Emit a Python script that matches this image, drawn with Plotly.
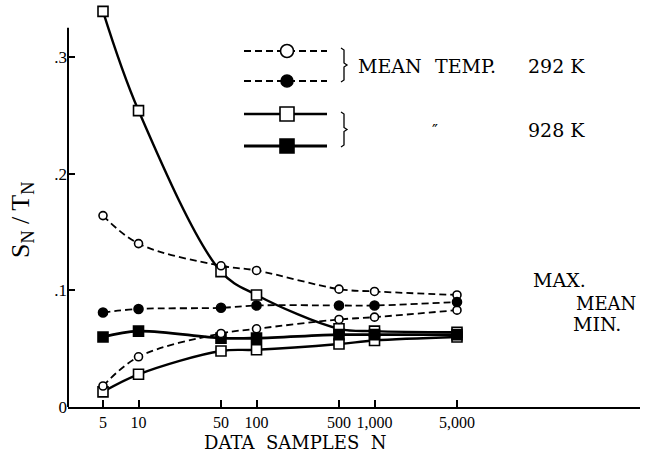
import plotly.graph_objects as go
import numpy as np

# Number of data samples N
samples = [5, 10, 50, 100, 500, 1000, 5000]
tick_text = ["5", "10", "50", "100", "500", "1,000", "5,000"]

# S_N / T_N at mean temperature 292 K
k292_max = [0.164, 0.140, 0.121, 0.117, 0.101, 0.099, 0.096]
k292_mean = [0.081, 0.084, 0.085, 0.087, 0.087, 0.087, 0.090]
k292_min = [0.018, 0.043, 0.063, 0.067, 0.075, 0.077, 0.083]

# S_N / T_N at mean temperature 928 K
k928_max = [0.339, 0.254, 0.116, 0.096, 0.067, 0.065, 0.064]
k928_mean = [0.060, 0.065, 0.059, 0.059, 0.062, 0.062, 0.062]
k928_min = [0.013, 0.028, 0.048, 0.049, 0.054, 0.057, 0.060]

TICK_FONT = "Liberation Serif, Times New Roman, serif"
LABEL_FONT = "DejaVu Serif, Liberation Serif, serif"
W, H = 645, 466
ML, MR, MT, MB = 68, 5, 4, 59
PW, PH = W - ML - MR, H - MT - MB
PX_PER_DECADE = 118.0
PX_PER_UNIT = 1167.0

x0 = np.log10(5) - (103 - ML) / PX_PER_DECADE
x1 = x0 + PW / PX_PER_DECADE
y1 = PH / PX_PER_UNIT


def px(x):
    """page x pixel -> paper coordinate"""
    return (x - ML) / PW


def py(y):
    """page y pixel (from top) -> paper coordinate"""
    return (H - MB - y) / PH


fig = go.Figure()


def add_series(y, dash, width, symbol, size, fill):
    fig.add_trace(go.Scatter(
        x=samples, y=y, mode="lines+markers",
        line=dict(color="black", width=width, dash=dash, shape="spline", smoothing=1.0),
        marker=dict(symbol=symbol, size=size, color=fill,
                    line=dict(color="black", width=1.6)),
        cliponaxis=False, showlegend=False,
    ))


DASH = "7px,4px"
add_series(k928_max, "solid", 2.4, "square", 10, "white")
add_series(k928_min, "solid", 2.4, "square", 10, "white")
add_series(k928_mean, "solid", 2.8, "square", 10, "black")
add_series(k292_max, DASH, 1.8, "circle", 8, "white")
add_series(k292_min, DASH, 1.8, "circle", 8, "white")
add_series(k292_mean, DASH, 1.8, "circle", 9, "black")

# Key samples on an overlay axis measured in page pixels
key_y = [51, 81, 114, 146]
key_styles = [
    (DASH, 2.0, "circle", 13, "white"),
    (DASH, 2.0, "circle", 12, "black"),
    ("solid", 2.4, "square", 14, "white"),
    ("solid", 2.8, "square", 14, "black"),
]
for yy, (dash, width, sym, size, fill) in zip(key_y, key_styles):
    fig.add_trace(go.Scatter(
        x=[244, 327], y=[H - yy, H - yy], mode="lines",
        line=dict(color="black", width=width, dash=dash),
        xaxis="x2", yaxis="y2", showlegend=False,
    ))
    fig.add_trace(go.Scatter(
        x=[287], y=[H - yy], mode="markers",
        marker=dict(symbol=sym, size=size, color=fill, line=dict(color="black", width=1.6)),
        xaxis="x2", yaxis="y2", showlegend=False, cliponaxis=False,
    ))

fig.update_layout(
    width=W, height=H,
    margin=dict(l=ML, r=MR, t=MT, b=MB),
    paper_bgcolor="white", plot_bgcolor="white",
    font=dict(family=TICK_FONT, color="black", size=15),
    xaxis=dict(
        type="log", range=[x0, x1],
        tickvals=samples, ticktext=tick_text,
        ticks="inside", ticklen=7, tickwidth=1.5, tickcolor="black",
        showline=True, linecolor="black", linewidth=2,
        showgrid=False, zeroline=False,
        tickfont=dict(family=TICK_FONT, size=16),
    ),
    yaxis=dict(
        range=[0, y1],
        tickvals=[0, 0.1, 0.2, 0.3], ticktext=["0", ".1", ".2", ".3"],
        ticks="inside", ticklen=7, tickwidth=1.5, tickcolor="black",
        showline=False, showgrid=False, zeroline=False,
        tickfont=dict(family=TICK_FONT, size=17),
    ),
    xaxis2=dict(range=[ML, W - MR], anchor="y2", overlaying="x",
                visible=False, fixedrange=True),
    yaxis2=dict(range=[MB, H - MT], anchor="x2", overlaying="y",
                visible=False, fixedrange=True),
)

# vertical axis line, ending a little above .3
fig.add_shape(type="line", xref="paper", yref="y", x0=0, x1=0, y0=0, y1=0.325,
              line=dict(color="black", width=2))

# braces next to the key
for top, bot in [(48, 82), (112, 147)]:
    mid = (top + bot) / 2
    pts = [(341, top), (344, top + 2), (344, mid - 2), (347, mid),
           (344, mid + 2), (344, bot - 2), (341, bot)]
    path = "M " + " L ".join(f"{px(a):.5f} {py(b):.5f}" for a, b in pts)
    fig.add_shape(type="path", xref="paper", yref="paper", path=path,
                  line=dict(color="black", width=1.3))


def note(text, x, y, size=19, xanchor="left", angle=0, family=LABEL_FONT):
    fig.add_annotation(text=text, x=px(x), y=py(y), xref="paper", yref="paper",
                       showarrow=False, xanchor=xanchor, yanchor="middle",
                       textangle=angle,
                       font=dict(family=family, size=size, color="black"))


note("MEAN", 356, 66)
note("TEMP.", 433, 66)
note("292 K", 526, 66)
note("″", 430, 130, 16)
note("928 K", 526, 130)
note("MAX.", 531, 280)
note("MEAN", 574, 303, 18)
note("MIN.", 571, 324)
note("DATA  SAMPLES  N", 295, 442, 18, "center")
note("S<sub>N</sub> / T<sub>N</sub>", 22, 220, 26, "center", -90, TICK_FONT)

fig.write_html("out.html")
